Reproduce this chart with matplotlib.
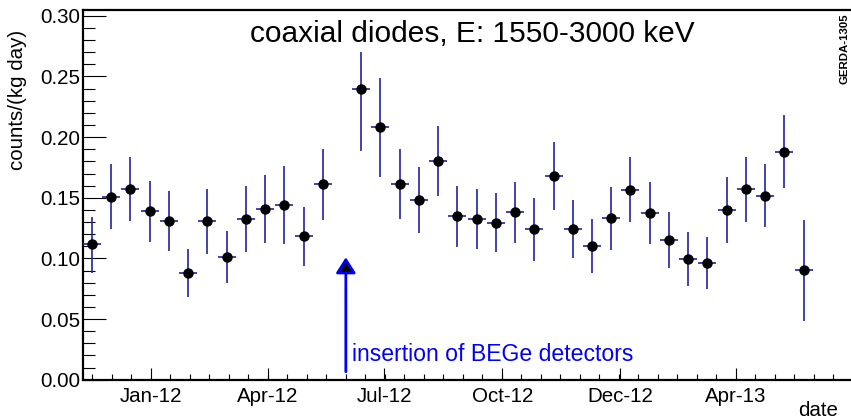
"""
Background rate of the coaxial diodes vs time (1550-3000 keV window)
"""

import numpy as np
import matplotlib
matplotlib.use("Agg")
import matplotlib.pyplot as plt
import matplotlib.dates as mdates
from matplotlib.patches import FancyArrowPatch
from matplotlib.ticker import MultipleLocator, FormatStrFormatter

# centres of the 15 day bins (bin around 2012-05-29 is empty)
bin_dates = [
    "2011-11-16", "2011-12-01", "2011-12-16", "2011-12-31", "2012-01-15",
    "2012-01-30", "2012-02-14", "2012-02-29", "2012-03-15", "2012-03-30",
    "2012-04-14", "2012-04-29", "2012-05-14",
    "2012-06-13", "2012-06-28", "2012-07-13", "2012-07-28", "2012-08-12",
    "2012-08-27", "2012-09-11", "2012-09-26", "2012-10-11", "2012-10-26",
    "2012-11-10", "2012-11-25", "2012-12-10", "2012-12-25", "2013-01-09",
    "2013-01-24", "2013-02-08", "2013-02-23", "2013-03-10", "2013-03-25",
    "2013-04-09", "2013-04-24", "2013-05-09", "2013-05-24",
]
rate = [
    0.112, 0.151, 0.1575, 0.139, 0.131, 0.088, 0.1306, 0.101, 0.1325, 0.141,
    0.144, 0.1185, 0.161,
    0.2397, 0.208, 0.1613, 0.1484, 0.1803, 0.1352, 0.1327, 0.1294, 0.1383,
    0.124, 0.1677, 0.1242, 0.1105, 0.1331, 0.1566, 0.1374, 0.1152, 0.0995,
    0.0965, 0.1399, 0.157, 0.1517, 0.188, 0.0902,
]
# upper / lower end of the error bars
rate_hi = [
    0.134, 0.178, 0.184, 0.164, 0.1556, 0.108, 0.157, 0.1226, 0.160, 0.169,
    0.1764, 0.142, 0.190,
    0.2704, 0.2487, 0.1902, 0.1751, 0.2089, 0.1597, 0.1572, 0.1537, 0.163,
    0.150, 0.1957, 0.1479, 0.1327, 0.1589, 0.1834, 0.163, 0.138, 0.1215,
    0.1176, 0.1674, 0.1836, 0.1778, 0.2182, 0.1317,
]
rate_lo = [
    0.088, 0.124, 0.131, 0.1135, 0.1063, 0.068, 0.104, 0.0795, 0.105, 0.113,
    0.112, 0.094, 0.132,
    0.1888, 0.1674, 0.1325, 0.1212, 0.1514, 0.1096, 0.108, 0.105, 0.1129,
    0.0976, 0.1397, 0.1006, 0.088, 0.1069, 0.1298, 0.1121, 0.0921, 0.0772,
    0.0748, 0.1124, 0.1303, 0.1256, 0.1578, 0.0486,
]
half_bin_days = 7

tick_dates = ["2012-01-01", "2012-04-01", "2012-07-01", "2012-10-01",
              "2013-01-01", "2013-04-01"]
tick_labels = ["Jan-12", "Apr-12", "Jul-12", "Oct-12", "Dec-12", "Apr-13"]

bege_date = "2012-06-01"
bege_arrow = (0.0066, 0.1009)
x_range = ("2011-11-09", "2013-06-30")

plt.rcParams['font.family'] = ['Liberation Sans', 'DejaVu Sans']

W, H = 851, 419
fig = plt.figure(figsize=(W / 100, H / 100), dpi=100)
ax = fig.add_axes([83 / W, 1 - 379.7 / H, 768 / W, 369.7 / H])

x = mdates.datestr2num(bin_dates)
y = np.array(rate)
yerr = [y - np.array(rate_lo), np.array(rate_hi) - y]

ax.errorbar(x, y, yerr=yerr, xerr=half_bin_days, fmt='o', color='black',
            markersize=6.5, ecolor='#2323a3', elinewidth=1.2, capsize=0,
            zorder=3)

# arrow marking the insertion of the BEGe detectors
xb = mdates.datestr2num(bege_date)
arrow = FancyArrowPatch((xb, bege_arrow[0]), (xb, bege_arrow[1]),
                        arrowstyle='-|>,head_length=0.47,head_width=0.3',
                        mutation_scale=20, fc='black', ec='#0000ff', lw=2.0,
                        shrinkA=0, shrinkB=0, zorder=4)
ax.add_patch(arrow)
ax.annotate('insertion of BEGe detectors', xy=(xb, 0), xycoords='data',
            xytext=(4.5, 13.3), textcoords='offset points',
            color='#0000ff', fontsize=16.6, ha='left', va='baseline')

# axes, ROOT-like
ax.set_xlim(mdates.datestr2num(x_range[0]), mdates.datestr2num(x_range[1]))
ax.set_ylim(0, 0.3048)

t_major = mdates.datestr2num(tick_dates)
ax.set_xticks(t_major)
ax.set_xticklabels(tick_labels)
step = (t_major[-1] - t_major[0]) / 30
ax.set_xticks(t_major[0] + step * np.arange(-3, 36), minor=True)

ax.yaxis.set_major_locator(MultipleLocator(0.05))
ax.yaxis.set_minor_locator(MultipleLocator(0.01))
ax.yaxis.set_major_formatter(FormatStrFormatter('%.2f'))

ax.tick_params(axis='both', which='both', direction='in', width=0.8,
               labelsize=14.8)
ax.tick_params(axis='x', which='major', length=8.6, pad=5)
ax.tick_params(axis='x', which='minor', length=4.3)
ax.tick_params(axis='y', which='major', length=16.5, pad=2)
ax.tick_params(axis='y', which='minor', length=8.4)

for side in ['left', 'bottom', 'top']:
    ax.spines[side].set_linewidth(1.6)
ax.spines['right'].set_visible(False)

fig.text(250 / W, 1 - 41.7 / H, 'coaxial diodes, E: 1550-3000 keV',
         fontsize=21.5, ha='left', va='baseline')
fig.text(18 / W, 1 - 30 / H, 'counts/(kg day)', rotation=90,
         fontsize=14.8, ha='center', va='top')
fig.text(838 / W, 1 - 416 / H, 'date', fontsize=14.8, ha='right',
         va='baseline')
fig.text(845 / W, 1 - 13 / H, 'GERDA-1305', rotation=90, fontsize=8.2,
         fontweight='bold', ha='center', va='top')

fig.savefig('out.png', dpi=100)
